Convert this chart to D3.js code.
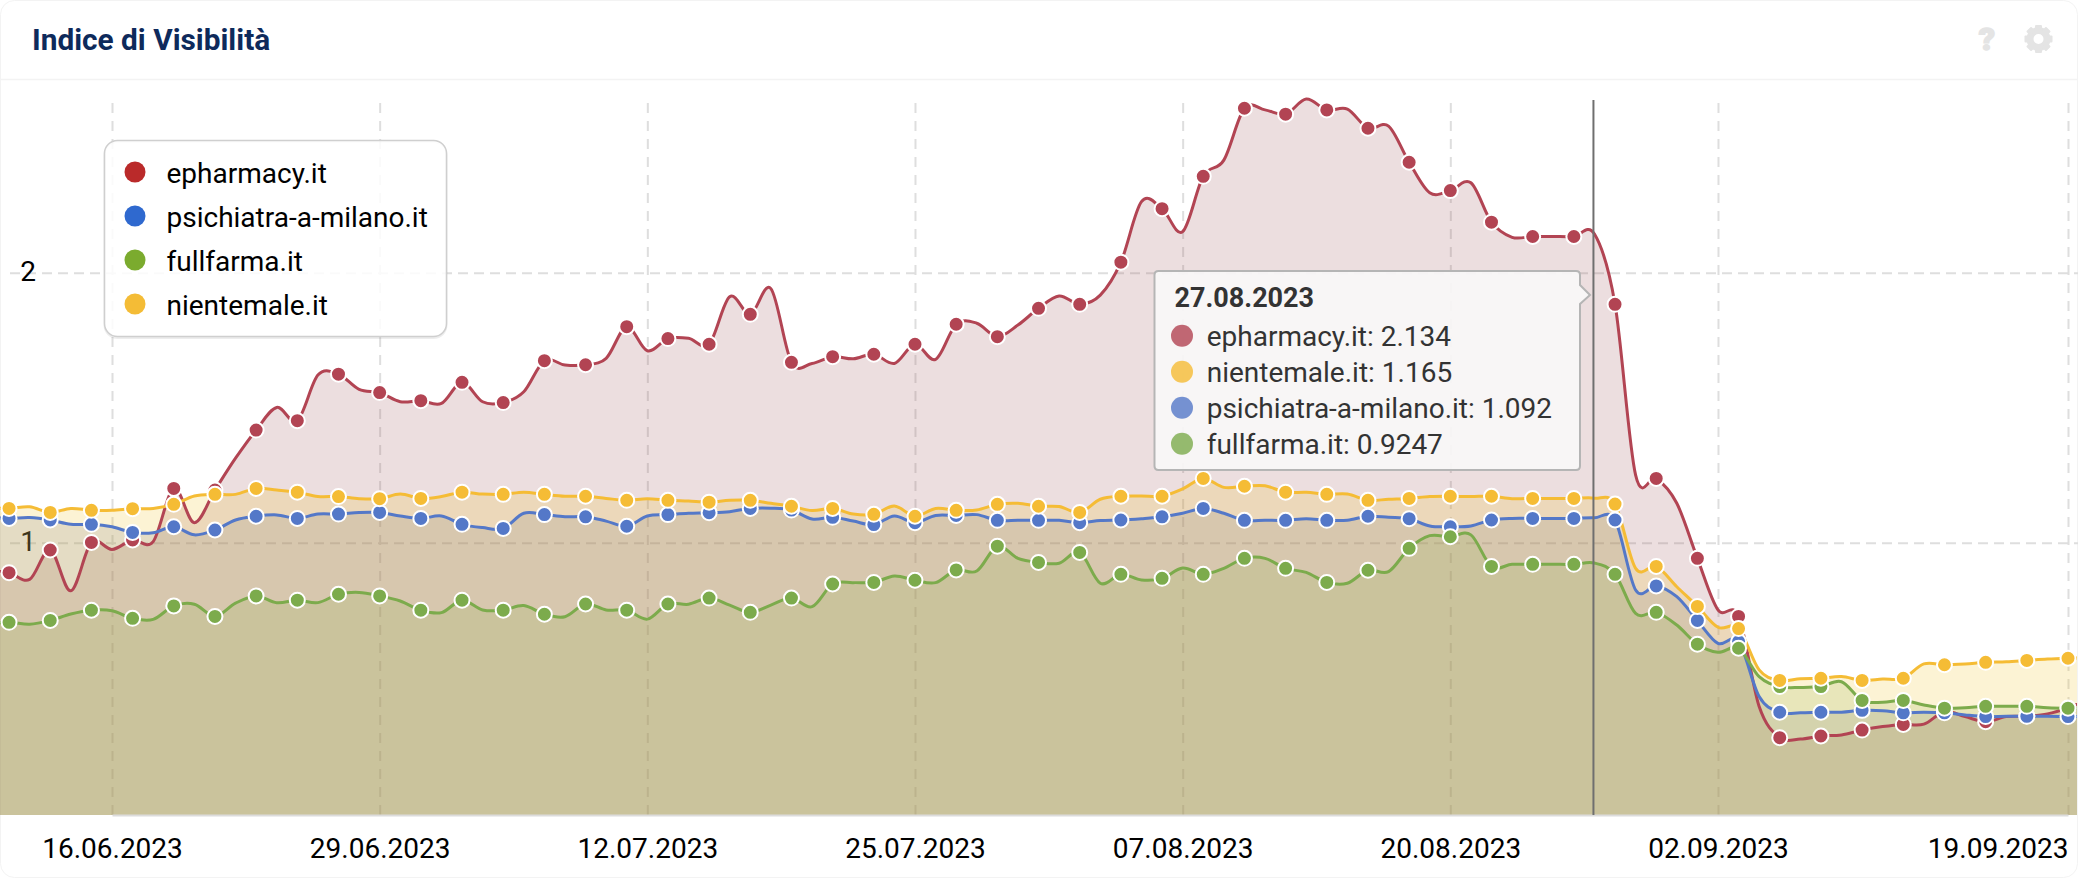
<!DOCTYPE html>
<html>
<head>
<meta charset="utf-8">
<script src="https://cdn.jsdelivr.net/npm/d3@7"></script>
<style>
  html, body { margin: 0; padding: 0; background: #fff; }
  svg { display: block; font-family: Roboto, sans-serif; }
</style>
</head>
<body>
<svg id="chart" width="2078" height="878"></svg>
<script>
const seriesNames = ['epharmacy.it', 'psichiatra-a-milano.it', 'fullfarma.it', 'nientemale.it'];

// daily values, 10.06.2023 to 20.09.2023
const epharmacy = [0.896,0.889,0.864,0.973,0.822,1.001,0.975,1.01,1.004,1.201,1.074,1.195,1.313,1.417,1.501,1.452,1.621,1.624,1.568,1.556,1.522,1.526,1.516,1.594,1.522,1.519,1.559,1.674,1.658,1.659,1.683,1.8,1.711,1.756,1.757,1.735,1.911,1.846,1.941,1.668,1.664,1.689,1.681,1.698,1.664,1.735,1.679,1.809,1.813,1.763,1.806,1.868,1.914,1.883,1.917,2.039,2.263,2.237,2.152,2.357,2.417,2.609,2.603,2.587,2.643,2.603,2.606,2.535,2.543,2.409,2.296,2.304,2.333,2.187,2.131,2.134,2.134,2.134,2.143,1.883,1.25,1.238,1.146,0.942,0.751,0.727,0.393,0.278,0.273,0.284,0.288,0.306,0.319,0.327,0.328,0.374,0.356,0.337,0.356,0.358,0.366,0.388,0.42];
const psichiatra = [1.094,1.09,1.093,1.084,1.068,1.068,1.059,1.038,1.037,1.059,1.029,1.047,1.084,1.098,1.103,1.09,1.106,1.106,1.112,1.112,1.099,1.09,1.099,1.068,1.056,1.053,1.109,1.104,1.096,1.096,1.08,1.061,1.099,1.104,1.109,1.111,1.115,1.127,1.128,1.121,1.088,1.094,1.08,1.067,1.099,1.074,1.101,1.101,1.104,1.083,1.083,1.083,1.083,1.074,1.082,1.084,1.089,1.096,1.109,1.127,1.109,1.083,1.083,1.083,1.089,1.083,1.083,1.098,1.094,1.089,1.062,1.059,1.062,1.084,1.09,1.09,1.09,1.09,1.092,1.084,0.825,0.84,0.8,0.712,0.627,0.634,0.43,0.372,0.37,0.372,0.372,0.379,0.378,0.37,0.372,0.37,0.362,0.356,0.357,0.357,0.357,0.356,0.356];
const fullfarma = [0.699,0.705,0.698,0.712,0.736,0.75,0.748,0.72,0.716,0.766,0.772,0.727,0.776,0.803,0.778,0.787,0.778,0.809,0.816,0.803,0.784,0.75,0.741,0.787,0.751,0.75,0.767,0.735,0.726,0.773,0.751,0.75,0.717,0.773,0.772,0.795,0.769,0.742,0.769,0.795,0.763,0.847,0.852,0.853,0.877,0.861,0.852,0.899,0.895,0.987,0.942,0.927,0.924,0.964,0.85,0.883,0.862,0.868,0.906,0.883,0.905,0.942,0.942,0.905,0.89,0.853,0.85,0.898,0.893,0.979,1.026,1.022,1.029,0.912,0.92,0.92,0.92,0.92,0.9247,0.883,0.738,0.742,0.695,0.624,0.594,0.609,0.504,0.467,0.464,0.467,0.485,0.416,0.409,0.416,0.399,0.387,0.389,0.394,0.394,0.394,0.389,0.387,0.387];
const nientemale = [1.13,1.127,1.133,1.112,1.127,1.12,1.12,1.126,1.127,1.142,1.173,1.179,1.179,1.201,1.195,1.187,1.171,1.171,1.163,1.163,1.18,1.164,1.171,1.187,1.18,1.179,1.187,1.179,1.172,1.172,1.164,1.157,1.163,1.157,1.154,1.15,1.157,1.157,1.146,1.135,1.119,1.127,1.106,1.105,1.136,1.098,1.127,1.12,1.121,1.142,1.146,1.135,1.134,1.112,1.161,1.172,1.173,1.172,1.199,1.238,1.205,1.209,1.211,1.187,1.187,1.179,1.18,1.157,1.161,1.164,1.171,1.172,1.171,1.172,1.163,1.164,1.164,1.164,1.165,1.143,0.905,0.912,0.837,0.764,0.687,0.682,0.529,0.49,0.496,0.498,0.504,0.49,0.495,0.498,0.551,0.548,0.551,0.557,0.559,0.564,0.569,0.572,0.574];

const seriesValues = [epharmacy, psichiatra, fullfarma, nientemale];
const lineColors = ['#b24453', '#5478c8', '#7cab4c', '#f5bc35'];
const fillColors = ['rgba(160,90,95,0.2)', 'rgba(90,100,145,0.18)', 'rgba(128,175,95,0.2)', 'rgba(240,195,40,0.2)'];
const legendColors = ['#ba2a2a', '#2f69cf', '#7bab2e', '#f4bc36'];

const xTicks = ['2023-06-16', '2023-06-29', '2023-07-12', '2023-07-25', '2023-08-07', '2023-08-20', '2023-09-02', '2023-09-19'];
const yTicks = [1, 2];

const tooltipDate = '27.08.2023';
const tooltipNames = ['epharmacy.it', 'nientemale.it', 'psichiatra-a-milano.it', 'fullfarma.it'];
const tooltipValues = ['2.134', '1.165', '1.092', '0.9247'];
const tooltipColors = ['#b24453', '#f5bc35', '#5478c8', '#7cab4c'];

const parseDay = d3.utcParse('%Y-%m-%d');
const formatDay = d3.utcFormat('%d.%m.%Y');
const days = d3.utcDay.range(parseDay('2023-06-10'), parseDay('2023-09-21'));

const width = 2078, height = 878;
const plotTop = 100, plotBottom = 815;

const x = d3.scaleUtc()
  .domain([parseDay('2023-06-16'), parseDay('2023-09-19')])
  .range([112, 2068]);
const y = d3.scaleLinear().domain([0, 2]).range([812.7, 272.7]);

const svg = d3.select('#chart');

// card and header
svg.append('rect')
  .attr('x', 0.5).attr('y', 0.5)
  .attr('width', width - 1).attr('height', height - 1)
  .attr('rx', 14)
  .attr('fill', '#fff').attr('stroke', '#f3f3f3');
svg.append('line')
  .attr('x1', 0).attr('x2', width)
  .attr('y1', 79.5).attr('y2', 79.5)
  .attr('stroke', '#f3f3f3').attr('stroke-width', 1.5);
svg.append('text')
  .attr('x', 32).attr('y', 50)
  .attr('font-size', 29.8).attr('font-weight', 700)
  .attr('fill', '#0e2a5b')
  .text('Indice di Visibilità');

// help and settings icons
svg.append('text')
  .attr('x', 1987).attr('y', 50)
  .attr('text-anchor', 'middle')
  .attr('font-size', 32).attr('font-weight', 900)
  .attr('fill', '#e4e4e4').attr('stroke', '#e4e4e4').attr('stroke-width', 1.5)
  .text('?');
const gear = svg.append('g').attr('transform', 'translate(2038.5,39)');
gear.append('circle').attr('r', 8.5).attr('fill', 'none').attr('stroke', '#e4e4e4').attr('stroke-width', 7);
d3.range(8).forEach(i => {
  gear.append('rect')
    .attr('x', -3.5).attr('y', -14)
    .attr('width', 7).attr('height', 6)
    .attr('rx', 1)
    .attr('fill', '#e4e4e4')
    .attr('transform', `rotate(${i * 45})`);
});

// grid
const xGrid = svg.append('g')
  .attr('transform', `translate(0,${plotBottom})`)
  .call(d3.axisBottom(x).tickValues(xTicks.map(parseDay)).tickSize(plotTop - plotBottom).tickFormat(''));
xGrid.select('.domain').remove();
xGrid.selectAll('line').attr('stroke', '#dedede').attr('stroke-width', 2).attr('stroke-dasharray', '10,8');

const yGrid = svg.append('g')
  .call(d3.axisLeft(y).tickValues(yTicks).tickSize(-(width - 10)).tickFormat(d => d).tickPadding(0));
yGrid.attr('transform', 'translate(10,0)');
yGrid.select('.domain').remove();
yGrid.selectAll('line').attr('stroke', '#dedede').attr('stroke-width', 2).attr('stroke-dasharray', '10,6');
yGrid.selectAll('text')
  .attr('x', 18).attr('dy', 8).attr('y', 0)
  .attr('text-anchor', 'middle')
  .attr('dominant-baseline', 'auto')
  .attr('font-size', 28)
  .attr('font-family', 'Roboto, sans-serif')
  .attr('fill', '#000');

// areas first, lines and markers above all of them
svg.append('clipPath').attr('id', 'plot-clip')
  .append('rect').attr('x', 0).attr('y', plotTop - 10).attr('width', width - 1).attr('height', plotBottom - plotTop + 10);

const curve = d3.curveCardinal.tension(0);
const area = d3.area().x((d, i) => x(days[i])).y0(plotBottom).y1(d => y(d)).curve(curve);
const line = d3.line().x((d, i) => x(days[i])).y(d => y(d)).curve(curve);

const plot = svg.append('g').attr('clip-path', 'url(#plot-clip)');
seriesNames.forEach((name, s) => {
  plot.append('path').attr('d', area(seriesValues[s])).attr('fill', fillColors[s]);
});
seriesNames.forEach((name, s) => {
  plot.append('path').attr('d', line(seriesValues[s]))
    .attr('fill', 'none').attr('stroke', lineColors[s]).attr('stroke-width', 3);
});
seriesNames.forEach((name, s) => {
  // markers sit on every second day
  plot.append('g').selectAll('circle')
    .data(seriesValues[s].map((v, i) => ({ v, i })).filter(d => d.i % 2 === 1))
    .join('circle')
    .attr('cx', d => x(days[d.i]))
    .attr('cy', d => y(d.v))
    .attr('r', 7.5)
    .attr('fill', lineColors[s])
    .attr('stroke', '#fff')
    .attr('stroke-width', 2);
});

// x axis
const xAxis = svg.append('g')
  .attr('transform', `translate(0,${plotBottom})`)
  .call(d3.axisBottom(x).tickValues(xTicks.map(parseDay)).tickSize(0).tickFormat(formatDay));
xAxis.select('.domain').attr('stroke', '#dcdcdc').attr('stroke-width', 2);
xAxis.selectAll('text')
  .attr('y', 43).attr('dy', 0)
  .attr('font-size', 28)
  .attr('font-family', 'Roboto, sans-serif')
  .attr('fill', '#000');
xAxis.selectAll('text').filter((d, i) => i === xTicks.length - 1).attr('text-anchor', 'end');

// crosshair
svg.append('line')
  .attr('x1', x(parseDay('2023-08-27')) - 1).attr('x2', x(parseDay('2023-08-27')) - 1)
  .attr('y1', plotTop).attr('y2', plotBottom)
  .attr('stroke', '#6f6f6f').attr('stroke-width', 2);

// legend
const legend = svg.append('g');
legend.append('rect')
  .attr('x', 104.5).attr('y', 142)
  .attr('width', 342).attr('height', 196)
  .attr('rx', 13)
  .attr('fill', 'none')
  .attr('stroke', 'rgba(0,0,0,0.07)').attr('stroke-width', 2);
legend.append('rect')
  .attr('x', 104.5).attr('y', 140.5)
  .attr('width', 342).attr('height', 196)
  .attr('rx', 13)
  .attr('fill', 'rgba(255,255,255,0.85)')
  .attr('stroke', '#cfcfcf').attr('stroke-width', 1.5);
const legendY = d3.scalePoint().domain(seriesNames).range([172, 304]);
seriesNames.forEach((name, s) => {
  legend.append('circle')
    .attr('cx', 135).attr('cy', legendY(name)).attr('r', 10.5)
    .attr('fill', legendColors[s]);
  legend.append('text')
    .attr('x', 166.5).attr('y', legendY(name) + 11)
    .attr('font-size', 28).attr('fill', '#000')
    .text(name);
});

// tooltip
const tip = svg.append('g');
tip.append('path')
  .attr('d', 'M1158.5,271 H1576 Q1580,271 1580,275 V285 L1590,295 L1580,304 V466 Q1580,470 1576,470 H1158.5 Q1154.5,470 1154.5,466 V275 Q1154.5,271 1158.5,271 Z')
  .attr('fill', 'rgba(249,247,248,0.93)')
  .attr('stroke', '#b5b5b5').attr('stroke-width', 2);
tip.append('text')
  .attr('x', 1174.5).attr('y', 307)
  .attr('font-size', 27).attr('font-weight', 700).attr('fill', '#333')
  .text(tooltipDate);
const tipY = d3.scalePoint().domain(tooltipNames).range([335.7, 443.7]);
tooltipNames.forEach((name, i) => {
  tip.append('circle')
    .attr('cx', 1182).attr('cy', tipY(name)).attr('r', 11)
    .attr('fill', tooltipColors[i]).attr('fill-opacity', 0.8);
  tip.append('text')
    .attr('x', 1206.7).attr('y', tipY(name) + 10)
    .attr('font-size', 28).attr('fill', '#333')
    .text(`${name}: ${tooltipValues[i]}`);
});
</script>
</body>
</html>
